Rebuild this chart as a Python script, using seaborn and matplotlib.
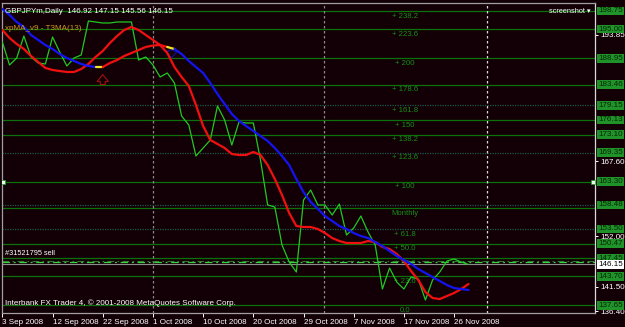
import numpy as np
import matplotlib.pyplot as plt
import matplotlib.transforms as mtransforms
import pandas as pd
import seaborn as sns

# GBPJPYm daily, 3 Sep - 28 Nov 2008
close = [192.31, 187.54, 188.99, 193.56, 189.20, 187.95, 187.75, 193.35, 190.24, 187.33,
         188.99, 189.62, 196.67, 196.47, 196.26, 196.26, 196.47, 196.47, 196.47, 188.58,
         189.20, 187.54, 185.05, 185.88, 183.80, 176.95, 175.08, 168.65, 170.31, 171.97,
         179.03, 176.12, 170.93, 175.71, 175.50, 175.50, 167.82, 158.48, 158.06, 150.17,
         146.64, 144.57, 159.51, 161.59, 158.48, 158.48, 156.40, 158.68, 152.25, 153.70,
         156.19, 152.87, 150.17, 141.04, 145.40, 142.49, 141.04, 143.53, 143.11, 138.75,
         142.91, 144.57, 146.85, 147.27, 146.64, 146.15]

t3ma = [194.81, 193.14, 191.90, 190.86, 189.41, 188.16, 186.92, 186.50, 186.29, 186.09,
        186.09, 186.71, 187.75, 189.20, 190.45, 192.11, 193.56, 194.81, 195.43, 194.81,
        193.77, 192.73, 191.69, 190.03, 187.12, 185.05, 183.18, 179.24, 174.88, 171.97,
        171.14, 170.31, 169.06, 168.86, 168.86, 169.48, 168.86, 166.78, 163.87, 160.55,
        156.81, 154.12, 153.91, 153.91, 153.49, 152.66, 151.62, 151.00, 150.59, 150.59,
        150.59, 151.00, 150.79, 149.76, 149.34, 148.30, 146.85, 144.77, 142.91, 140.41,
        139.17, 138.96, 139.58, 140.21, 141.04, 142.08]

xpma = [199.17, 197.92, 196.47, 195.43, 193.77, 192.73, 191.69, 190.86, 189.82, 188.99,
        188.37, 187.75, 187.33, 187.12, 187.12, 187.95, 188.58, 189.41, 190.03, 190.65,
        191.28, 191.59, 191.69, 191.28, 190.86, 189.82, 188.37, 187.12, 185.88, 183.80,
        181.52, 179.44, 177.37, 175.91, 174.88, 173.84, 172.80, 171.76, 170.31, 168.65,
        166.78, 163.87, 161.17, 159.10, 157.65, 156.19, 155.15, 154.12, 153.49, 152.66,
        152.04, 151.62, 150.79, 149.96, 148.93, 147.89, 147.06, 146.23, 145.19, 144.36,
        143.53, 142.70, 141.87, 141.24, 141.04, 140.83]

date_labels = ["3 Sep 2008", "12 Sep 2008", "22 Sep 2008", "1 Oct 2008", "10 Oct 2008",
               "20 Oct 2008", "29 Oct 2008", "7 Nov 2008", "17 Nov 2008", "26 Nov 2008"]

fib_names = ["238.2", "223.6", "200", "178.6", "161.8", "150", "138.2", "123.6", "100",
             "78.6", "61.8", "50.0", "38.2", "23.6", "0.0"]
fib_prices = [198.75, 195.00, 188.95, 183.46, 179.15, 176.13, 173.10, 169.35, 163.30,
              157.81, 153.50, 150.47, 147.45, 143.70, 137.65]
dotted_levels = ["161.8", "123.6", "61.8"]

box_prices = [198.75, 195.00, 188.95, 183.46, 179.15, 176.13, 173.10, 169.35, 163.30,
              158.48, 153.50, 150.47, 147.45, 143.70, 137.65]
scale_prices = [193.85, 167.60, 152.00, 141.50, 136.40]
bid = 146.15
sell_price = 146.62

bars = np.arange(len(close))
df = pd.DataFrame({"bar": bars, "close": close, "t3ma": t3ma, "xpma": xpma})

BG = "#130006"
FIB = "#0c700c"
sns.set_style("dark")
plt.rcParams["font.family"] = ["Liberation Sans", "DejaVu Sans"]

fig = plt.figure(figsize=(6.25, 3.27), dpi=100, facecolor=BG)
ax = fig.add_axes([2 / 625, 14 / 327, 593 / 625, 310 / 327])
ax.set_facecolor(BG)
ax.set_xlim(-0.05, 82.65)
ax.set_ylim(136.06, 200.41)
trans = mtransforms.blended_transform_factory(ax.transAxes, ax.transData)

# fibo levels + extra horizontal lines
for name, p in zip(fib_names, fib_prices):
    if name in dotted_levels:
        ax.axhline(p, color="#1d5a4a", lw=0.9, ls=(0, (1, 1)), zorder=1)
    else:
        ax.axhline(p, color=FIB, lw=0.9, zorder=1)
    lab = name if name == "0.0" else "+ " + name
    if name == "78.6":
        lab = "Monthly"
    ax.text(0.6796, p - 1.05, lab, transform=trans, color="#159015",
            fontsize=5.6, ha="center", va="center", zorder=2)
ax.axhline(158.48, color="#1d5a4a", lw=0.9, ls=(0, (1, 1)), zorder=1)

# trendline endpoints
ax.plot([0.1, 82.4], [163.30, 163.30], ls="none", marker="s", ms=2.2,
        mfc="#e8ffe8", mec="#2a9a2a", mew=0.5, zorder=5)

# period separators
for xb, c in [(21.06, "#8a8a8a"), (44.9, "#8a8a8a"), (67.65, "#d8d8d8")]:
    ax.axvline(xb, color=c, lw=0.9, ls=(0, (2, 2)), zorder=1)

# order and bid lines
ax.axhline(sell_price + 0.25, color="#2f7a2f", lw=0.8, ls=(0, (6, 3, 1.5, 3)), zorder=2)
ax.axhline(sell_price, color="#3ad23a", lw=0.9, ls=(0, (6, 3, 1.5, 3)), zorder=2)
ax.axhline(bid, color="#8c8c8c", lw=0.8, zorder=2)

# price and indicators
sns.lineplot(data=df, x="bar", y="close", ax=ax, color="#22c822", linewidth=0.9,
             estimator=None, zorder=3)
sns.lineplot(data=df, x="bar", y="t3ma", ax=ax, color="#f01010", linewidth=1.6,
             estimator=None, zorder=4)
segments = [(0, 13, "#1414f0"), (13, 14, "#f0e628"), (14, 23, "#f01010"),
            (23, 24, "#f0e628"), (24, len(df) - 1, "#1414f0")]
for a, b, c in segments:
    part = df.iloc[a:b + 1]
    sns.lineplot(data=part, x="bar", y="xpma", ax=ax, color=c, linewidth=1.6,
                 estimator=None, zorder=4)

# xpMA signal arrows
ax.annotate("", xy=(14, xpma[14] - 1.0), xytext=(14, xpma[14] - 4.2),
            arrowprops=dict(arrowstyle="simple,head_length=0.55,head_width=0.9,tail_width=0.4",
                            fc="none", ec="#a01010", lw=0.8, mutation_scale=9), zorder=2)
ax.annotate("", xy=(23.6, 188.4), xytext=(23.6, 191.2),
            arrowprops=dict(arrowstyle="simple,head_length=0.55,head_width=0.9,tail_width=0.4",
                            fc="none", ec="#1010a0", lw=0.8, mutation_scale=9), zorder=2)

# axes, ticks
for s in ax.spines.values():
    s.set_color("#a0a0a0")
    s.set_linewidth(0.9)
ax.spines["right"].set_color("#d8d8d8")
ax.set_xlabel("")
ax.set_ylabel("")
ax.set_xticks(np.arange(0, 7 * len(date_labels), 7))
ax.set_xticklabels(date_labels, ha="left")
ax.tick_params(axis="x", colors="white", labelsize=5.8, length=3, width=0.7,
               pad=1, direction="out", bottom=True)
ax.yaxis.tick_right()
ax.set_yticks(scale_prices)
ax.set_yticklabels([f"{p:.2f}" for p in scale_prices])
ax.tick_params(axis="y", colors="white", labelsize=5.8, length=2.5, width=0.7,
               pad=1.5, direction="out", right=True)
ax.grid(False)

# right-hand price boxes
for p in box_prices:
    ax.text(1.0055, p, f"{p:.2f}", transform=trans, fontsize=5.8, color="#042804",
            ha="left", va="center", zorder=6, clip_on=False,
            bbox=dict(boxstyle="square,pad=0.1", fc="#20922a", ec="none"))
ax.text(1.0055, bid, f"{bid:.2f}", transform=trans, fontsize=5.8, color="black",
        ha="left", va="center", zorder=6, clip_on=False,
        bbox=dict(boxstyle="square,pad=0.1", fc="white", ec="none"))

# chart captions
ax.text(0.005, 0.985, "GBPJPYm,Daily  146.92 147.15 145.56 146.15", transform=ax.transAxes,
        color="white", fontsize=5.8, ha="left", va="top", zorder=7)
ax.text(0.005, 0.93, "xpMA_v9 - T3MA(13)", transform=ax.transAxes,
        color="#d0961e", fontsize=5.8, ha="left", va="top", zorder=7)
ax.text(0.922, 0.985, "screenshot \u25be", transform=ax.transAxes,
        color="white", fontsize=5.3, ha="left", va="top", zorder=7)
ax.text(0.005, sell_price + 1.0, "#31521795 sell", transform=trans,
        color="white", fontsize=5.3, ha="left", va="bottom", zorder=7)
ax.text(0.005, 0.02, "Interbank FX Trader 4, \u00a9 2001-2008 MetaQuotes Software Corp.",
        transform=ax.transAxes, color="white", fontsize=5.8, ha="left", va="bottom", zorder=7)

fig.savefig("out.png", dpi=100, facecolor=BG)
